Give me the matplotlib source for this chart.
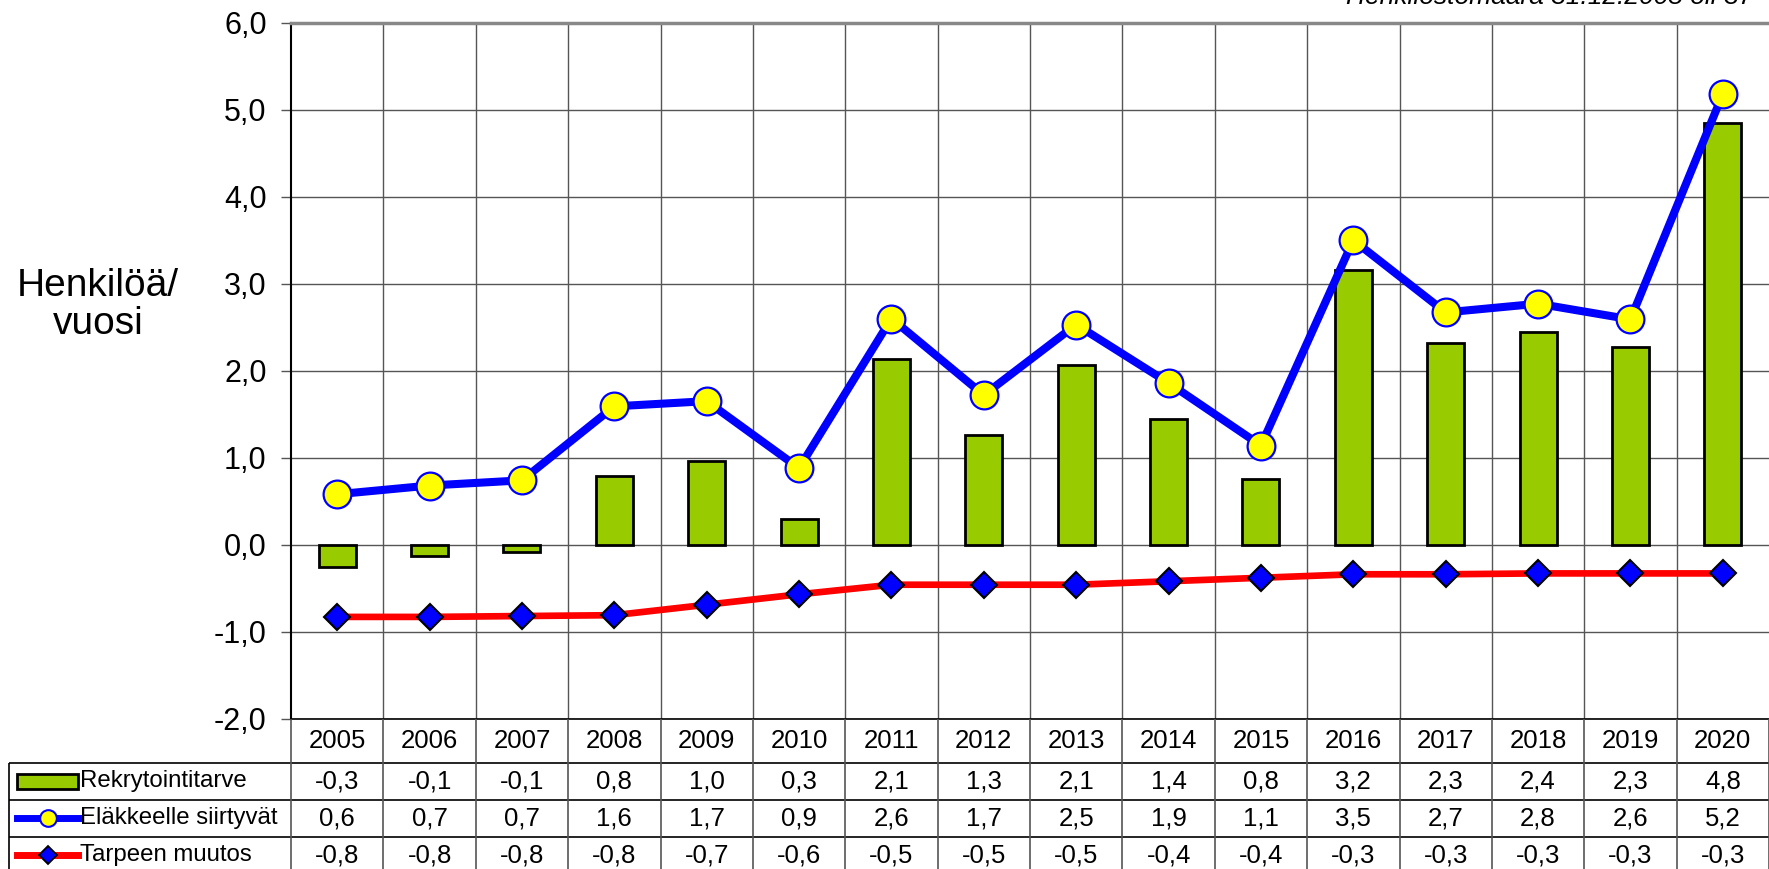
import numpy as np
import matplotlib.pyplot as plt
from matplotlib.patches import Rectangle
from matplotlib.ticker import FuncFormatter

plt.rcParams['font.family'] = ['Liberation Sans', 'DejaVu Sans']

# data
years = ['2005', '2006', '2007', '2008', '2009', '2010', '2011', '2012',
         '2013', '2014', '2015', '2016', '2017', '2018', '2019', '2020']
rekrytointitarve = [-0.26, -0.13, -0.08, 0.79, 0.96, 0.30, 2.14, 1.26,
                    2.07, 1.45, 0.76, 3.16, 2.32, 2.44, 2.27, 4.85]
elakkeelle = [0.58, 0.68, 0.74, 1.59, 1.65, 0.88, 2.60, 1.72,
              2.53, 1.86, 1.14, 3.50, 2.67, 2.77, 2.59, 5.18]
tarpeen_muutos = [-0.83, -0.83, -0.82, -0.81, -0.69, -0.57, -0.46, -0.46,
                  -0.46, -0.42, -0.38, -0.34, -0.34, -0.33, -0.33, -0.33]

rekry_taulu = ['-0,3', '-0,1', '-0,1', '0,8', '1,0', '0,3', '2,1', '1,3',
               '2,1', '1,4', '0,8', '3,2', '2,3', '2,4', '2,3', '4,8']
elak_taulu = ['0,6', '0,7', '0,7', '1,6', '1,7', '0,9', '2,6', '1,7',
              '2,5', '1,9', '1,1', '3,5', '2,7', '2,8', '2,6', '5,2']
muutos_taulu = ['-0,8', '-0,8', '-0,8', '-0,8', '-0,7', '-0,6', '-0,5', '-0,5',
                '-0,5', '-0,4', '-0,4', '-0,3', '-0,3', '-0,3', '-0,3', '-0,3']
sarjat = ['Rekrytointitarve', 'Eläkkeelle siirtyvät', 'Tarpeen muutos']

W, H = 1769, 869
fig = plt.figure(figsize=(W / 100, H / 100), dpi=100)


def px_box(x0, y0, x1, y1):
    # pikselit vasemmasta yläkulmasta -> figure-koordinaatit
    return [x0 / W, 1 - y1 / H, (x1 - x0) / W, (y1 - y0) / H]


GREEN = '#99CC00'
BLUE = '#0000FF'
RED = '#FF0000'
YELLOW = '#FFFF00'
GRID = '#555555'

# pääkaavio
ax = fig.add_axes(px_box(291, 22.7, 1769, 718.7))
x = np.arange(len(years))
ax.bar(x, rekrytointitarve, width=0.40, color=GREEN, edgecolor='black',
       linewidth=2.0, zorder=2)
ax.plot(x, elakkeelle, color=BLUE, lw=5.8, marker='o', ms=20,
        mfc=YELLOW, mec=BLUE, mew=1.6, zorder=3)
ax.plot(x, tarpeen_muutos, color=RED, lw=4.8, marker='D', ms=13,
        mfc=BLUE, mec='black', mew=1.5, zorder=4)

ax.set_xlim(-0.5, 15.5)
ax.set_ylim(-2, 6)
ax.set_yticks(range(-2, 7))
ax.yaxis.set_major_formatter(FuncFormatter(lambda v, p: f'{v:.1f}'.replace('.', ',')))
ax.set_xticks([])
ax.set_xticks(np.arange(0.5, 15.5, 1), minor=True)
ax.tick_params(axis='x', which='both', length=0, labelbottom=False)
ax.tick_params(axis='y', direction='out', length=7, color=GRID, width=1,
               labelsize=22, pad=10.5)
ax.grid(True, axis='y', which='major', color=GRID, lw=1, zorder=0)
ax.grid(True, axis='x', which='minor', color=GRID, lw=1, zorder=0)
ax.set_axisbelow(True)
ax.spines['left'].set_color('black')
ax.spines['left'].set_linewidth(1.5)
ax.spines['top'].set_color('#888888')
ax.spines['top'].set_linewidth(2.5)
ax.spines['right'].set_visible(False)
ax.spines['bottom'].set_color('black')
ax.spines['bottom'].set_linewidth(1.2)

fig.text(98 / W, 1 - 305 / H, 'Henkilöä/\nvuosi', ha='center', va='center',
         fontsize=28, linespacing=1.1)

fig.text(1753 / W, 1 - 4 / H, 'Henkilöstömäärä 31.12.2005 oli 37',
         ha='right', va='baseline', fontsize=19, style='italic')

# taulukko
col_w = (1769 - 291) / 16.0


def tx(px):
    return -0.5 + (px - 291) / col_w


tab = fig.add_axes(px_box(9, 718.7, 1769, 874))
tab.set_xlim(tx(9), 15.5)
tab.set_ylim(155.3, 0)
tab.axis('off')

row_edges = [44.5, 81, 118]
row_mid = [62.5, 99.5, 136.5]
tab.hlines(row_edges, tx(9), 15.5, color='black', lw=1.2, clip_on=False)
tab.vlines(np.arange(-0.5, 16, 1), 0, 155.3, color=GRID, lw=1.2, clip_on=False)
tab.vlines([tx(9)], row_edges[0], 155.3, color='black', lw=1.2, clip_on=False)

for i, yr in enumerate(years):
    tab.text(i, 22, yr, ha='center', va='center', fontsize=18.5)
for rivi, arvot in zip(row_mid, [rekry_taulu, elak_taulu, muutos_taulu]):
    for i, v in enumerate(arvot):
        tab.text(i, rivi, v, ha='center', va='center', fontsize=18.5)

# selitteet taulukossa
tab.add_patch(Rectangle((tx(17), row_mid[0] - 7.5), tx(78) - tx(17), 15,
                        facecolor=GREEN, edgecolor='black', lw=2.0, clip_on=False))
tab.plot([tx(17), tx(78)], [row_mid[1]] * 2, color=BLUE, lw=5, clip_on=False)
tab.plot([tx(47.5)], [row_mid[1]], marker='o', ms=12, mfc=YELLOW, mec=BLUE,
         mew=1.5, clip_on=False)
tab.plot([tx(17), tx(78)], [row_mid[2]] * 2, color=RED, lw=5, clip_on=False)
tab.plot([tx(47.5)], [row_mid[2]], marker='D', ms=9.5, mfc=BLUE, mec='black',
         mew=1.3, clip_on=False)
for rivi, nimi in zip(row_mid, sarjat):
    tab.text(tx(80), rivi, nimi, ha='left', va='center', fontsize=17.3)

fig.savefig('out.png', dpi=100)
